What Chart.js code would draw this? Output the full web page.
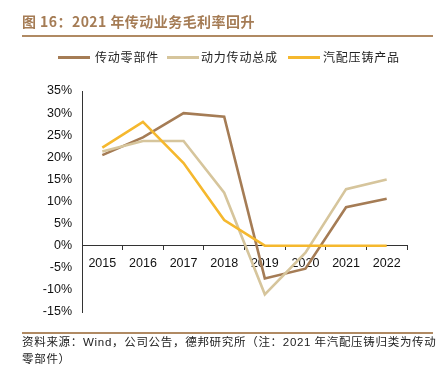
<!DOCTYPE html>
<html><head><meta charset="utf-8">
<script src="https://cdn.jsdelivr.net/npm/chart.js@4/dist/chart.umd.min.js"></script>
<style>
html,body{margin:0;padding:0;background:#fff;}
#wrap{position:relative;width:442px;height:369px;overflow:hidden;font-family:"Noto Sans CJK SC","Liberation Sans",sans-serif;}
#c{position:absolute;left:0;top:0;}
#title{position:absolute;left:22px;top:12px;font-size:14px;font-weight:bold;color:#A57C55;white-space:nowrap;line-height:18px;letter-spacing:0.45px;}
#tline{position:absolute;left:22px;top:35px;width:411px;height:2px;background:#B08A63;}
#legend{position:absolute;top:49px;left:0;width:442px;height:16px;font-size:12px;color:#222;}
.li{position:absolute;top:0;white-space:nowrap;line-height:16px;letter-spacing:0.8px;}
.sw{position:absolute;top:7px;height:3px;}
#fline{position:absolute;left:22px;top:332px;width:411px;height:2px;background:#B08A63;}
#foot{position:absolute;left:22px;top:333px;font-size:11.5px;color:#222;line-height:16px;white-space:nowrap;letter-spacing:0.7px;}
</style></head>
<body>
<div id="wrap">
<canvas id="c" width="442" height="369"></canvas>
<div id="title">图 16：2021 年传动业务毛利率回升</div>
<div id="tline"></div>
<div id="legend"></div>
<div id="fline"></div>
<div id="foot">资料来源：<span style="font-family:'Liberation Sans'">Wind</span>，公司公告，德邦研究所（注：<span style="font-family:'Liberation Sans'">2021</span> 年汽配压铸归类为传动<br>零部件）</div>
</div>
<script>
const categories = ["2015","2016","2017","2018","2019","2020","2021","2022"];
const seriesNames = ["传动零部件","动力传动总成","汽配压铸产品"];
const partsValues = [20.5, 24.5, 30.0, 29.2, -7.4, -5.2, 8.7, 10.6];
const powertrainValues = [21.3, 23.7, 23.7, 12.0, -11.0, -1.6, 12.8, 15.0];
const castingValues = [22.2, 28.0, 18.7, 5.8, 0, 0, 0, 0];
const yTicks = [35,30,25,20,15,10,5,0,-5,-10,-15];
const colors = ["#A57C55","#D6C59C","#F5B82E"];

// HTML legend
const legendPos = [[58,95],[167,201],[288,323]];
const lg = document.getElementById('legend');
seriesNames.forEach((n,i)=>{
  const sw=document.createElement('div');sw.className='sw';
  sw.style.left=legendPos[i][0]+'px';sw.style.width='32px';sw.style.background=colors[i];
  lg.appendChild(sw);
  const t=document.createElement('div');t.className='li';t.style.left=legendPos[i][1]+'px';t.textContent=n;
  lg.appendChild(t);
});

const ds = [partsValues, powertrainValues, castingValues].map((v,i)=>({
  label: seriesNames[i], data: v, borderColor: colors[i], backgroundColor: colors[i],
  borderWidth: 2.6, pointRadius: 0, tension: 0, fill: false
}));
ds.reverse();

new Chart(document.getElementById('c'), {
  type: 'line',
  data: { labels: categories, datasets: ds },
  options: {
    responsive: false, animation: false,
    layout: { padding: { left: 0, right: 35, top: 91, bottom: 57 } },
    plugins: { legend: { display: false }, tooltip: { enabled: false } },
    scales: {
      x: {
        position: { y: 0 },
        offset: true,
        grid: { display: true, drawOnChartArea: false, drawTicks: true, tickLength: 4, color: '#333', offset: true },
        border: { display: true, color: '#333', width: 1 },
        ticks: { color: '#111', font: { family: 'Liberation Sans', size: 12.5 }, padding: 6, maxRotation: 0 }
      },
      y: {
        min: -15, max: 35,
        afterBuildTicks: (s)=>{ s.ticks = yTicks.map(v=>({value:v})); },
        afterFit: (s)=>{ s.width = 82; },
        grid: { display: false, drawTicks: false },
        border: { display: true, color: '#333', width: 1 },
        ticks: { color: '#111', font: { family: 'Liberation Sans', size: 12.5 }, padding: 10, callback: v => v + '%' }
      }
    }
  }
});
</script>
</body></html>
